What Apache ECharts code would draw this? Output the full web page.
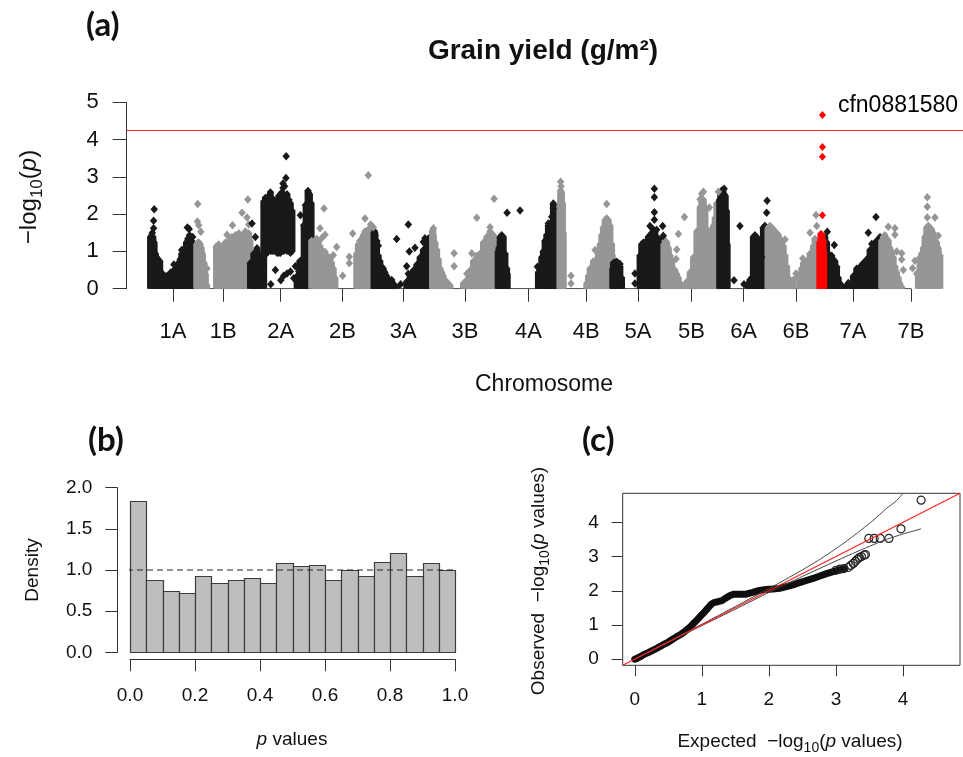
<!DOCTYPE html>
<html>
<head>
<meta charset="utf-8">
<title>Grain yield (g/m²) – GWAS</title>
<script src="https://cdn.jsdelivr.net/npm/echarts@6/dist/echarts.min.js"></script>
<style>
html, body { margin: 0; padding: 0; background: #fff; }
#chart { width: 963px; height: 757px; }
</style>
</head>
<body>
<div id="chart"></div>
<script>
// ---------- (a) Manhattan plot ----------
const chromNames = ['1A', '1B', '2A', '2B', '3A', '3B', '4A', '4B', '5A', '5B', '6A', '6B', '7A', '7B'];
const chromLengthsMb = [594, 690, 781, 801, 751, 830, 800, 674, 655, 714, 618, 721, 737, 751];

// dense marker stacks: [position in chromosome (Mb), top] or [position, bottom, top]
// isolated markers: [position in chromosome (Mb), -log10(p)]
const cols1A = [[8,1.40],[24,1.45],[40,1.40],[56,1.25],[72,0.95],[88,0.85],[108,0.80],[128,0.75],[148,0.45],[168,0.30],[188,0.35],[208,0.35],[228,0.35],[248,0.40],[268,0.45],[288,0.45],[308,0.50],[328,0.55],[348,0.50],[368,0.70],[388,0.80],[408,0.95],[428,0.90],[448,1.10],[468,1.25],[488,1.35],[508,1.45],[528,1.30],[548,1.25],[568,1.20],[588,1.10]];
const dots1A = [[56,2.13],[48,1.82],[48,1.62],[32,1.50],[308,0.65],[408,1.04],[480,1.64],[504,1.60],[548,1.39]];

const cols1B = [[5,1.20],[20,1.25],[35,1.25],[50,1.20],[65,1.10],[80,0.95],[100,0.70],[118,0.40],[135,0.10],[258,1.15],[288,1.20],[330,1.15],[373,1.25],[416,1.30],[458,1.40],[501,1.45],[544,1.50],[586,1.45],[629,1.55],[672,1.50],[688,1.30]];
const dots1B = [[19,2.27],[15,1.80],[32,1.70],[58,1.53],[138,0.54],[586,2.04],[660,2.39],[650,1.91],[672,1.72],[464,1.70],[394,1.45]];

const cols2A = [[3,0.70],[30,0.75],[46,0.95],[88,1.10],[119,0.90],[152,0.80],[174,2.35],[195,0.90,2.45],[216,1.00,2.45],[238,1.00,2.25],[259,1.00,2.60],[280,1.00,2.30],[302,1.00,2.40],[323,1.00,2.30],[344,0.95,2.35],[366,0.95,2.50],[387,0.95,2.55],[408,1.00,2.60],[430,1.00,2.50],[451,1.05,2.45],[472,1.00,2.55],[494,1.00,2.40],[515,0.95,2.30],[536,1.00,2.10],[600,0.35],[634,0.75],[664,0.80],[690,1.70],[715,2.20],[740,2.64],[760,2.55],[781,2.30]];
const dots2A = [[461,3.55],[458,2.97],[420,2.82],[420,2.70],[440,2.75],[264,0.12],[392,0.23],[472,0.41],[515,0.46],[558,0.28],[579,0.60],[622,0.46],[430,0.35],[323,0.50],[643,1.97],[707,2.24],[686,1.70],[67,1.39],[24,1.75]];

const cols2B = [[6,1.30],[49,1.25],[70,1.35],[91,1.30],[113,1.15],[134,1.05],[155,0.95],[177,1.00],[198,0.90],[219,0.75],[241,0.85],[262,0.70],[283,0.55],[305,0.30],[582,0.95],[603,1.20],[625,1.30],[646,1.35],[667,1.45],[689,1.55],[710,1.50],[731,1.60],[753,1.55],[774,1.40],[795,1.20]];
const dots2B = [[164,2.15],[113,1.62],[177,1.45],[134,1.35],[326,1.12],[283,0.90],[403,0.35],[488,0.86],[488,0.68],[531,1.48],[689,1.88],[731,3.04],[761,1.72],[795,1.65]];

const cols3A = [[2,1.50],[10,1.55],[16,1.50],[37,1.30],[58,0.90],[79,0.75],[101,0.60],[122,0.55],[143,0.45],[165,0.35],[186,0.25],[207,0.20],[229,0.25],[250,0.15],[293,0.05],[421,0.20],[464,0.35],[506,0.50],[549,0.65],[592,0.85],[634,1.05],[677,1.25],[698,1.35],[720,1.40],[741,1.30]];
const dots3A = [[58,1.15],[16,1.42],[293,1.33],[442,1.72],[455,1.00],[527,1.10],[421,0.60],[442,0.40],[229,0.12],[344,0.12],[173,0.28],[634,1.25],[655,1.35]];

const cols3B = [[0,1.55],[6,1.60],[12,1.45],[33,1.25],[55,1.05],[76,0.80],[97,0.55],[119,0.45],[140,0.35],[183,0.20],[225,0.10],[396,0.15],[439,0.25],[481,0.50],[524,0.75],[567,0.90],[609,0.95],[652,1.25],[695,1.40],[737,1.55],[780,1.45],[801,1.20],[823,0.90]];
const dots3B = [[277,0.95],[277,0.60],[567,1.90],[789,2.41],[737,1.65],[503,0.95],[652,0.90],[439,0.40],[12,1.62]];

const cols4A = [[10,1.00],[20,1.10],[35,1.40],[56,1.45],[77,1.40],[99,0.95],[120,0.55],[128,0.40],[525,0.45],[547,0.55],[568,0.85],[589,1.00],[611,1.30],[632,1.45],[653,1.70],[675,1.75],[696,1.80],[717,2.30],[739,2.10]];
const dots4A = [[125,2.04],[291,2.10],[513,0.59],[717,2.26],[717,2.15],[589,1.00],[653,1.75],[696,1.93]];

const cols4B = [[0,2.30],[10,2.65],[22,2.60],[35,2.30],[45,1.50],[344,0.15],[365,0.35],[387,0.55],[429,0.75],[472,0.80],[493,0.95],[515,1.20],[536,1.45],[557,1.65],[579,1.85],[600,1.90],[621,1.85],[643,1.70],[664,1.20],[672,0.90]];
const dots4B = [[10,2.87],[16,2.75],[143,0.35],[143,0.14],[600,2.27],[590,1.85],[451,1.04]];

const cols5A = [[3,0.55],[11,0.70],[32,0.72],[53,0.65],[75,0.70],[96,0.60],[117,0.30],[352,0.90],[373,1.20],[395,1.25],[416,1.20],[437,1.30],[459,1.40],[480,1.45],[501,1.50],[523,1.60],[544,1.55],[565,1.40],[587,1.35],[608,1.20],[629,1.30],[650,1.35]];
const dots5A = [[53,0.72],[96,0.66],[288,0.41],[288,0.14],[536,2.68],[536,2.45],[536,2.05],[536,1.85],[480,1.68],[642,1.68],[650,1.42],[565,1.58]];

const cols5B = [[2,1.20],[18,1.30],[40,1.25],[61,1.10],[82,0.90],[104,0.75],[125,0.55],[146,0.50],[168,0.40],[189,0.30],[210,0.15],[232,0.10],[274,0.10],[296,0.20],[338,0.45],[381,0.85],[424,1.55],[466,2.20],[487,2.35],[509,2.40],[530,2.20],[551,1.60],[573,1.55],[594,1.50],[615,1.60],[637,1.70],[658,1.90],[680,2.30],[701,2.00]];
const dots5B = [[266,1.92],[189,1.47],[168,1.05],[159,0.80],[585,2.18],[509,2.60],[487,2.55],[701,2.60],[466,2.40]];

const cols6A = [[2,2.40],[15,2.60],[30,2.65],[45,2.65],[60,2.55],[75,2.50],[90,2.10],[100,1.20],[369,0.15],[390,0.25],[412,0.30],[433,1.40],[454,1.45],[476,1.40],[497,1.00],[518,0.90],[540,1.20],[561,1.65],[582,1.70],[604,1.55]];
const dots6A = [[60,2.68],[186,0.23],[262,1.68],[314,0.12],[610,2.36],[604,2.04],[540,0.85]];

const cols6B = [[2,1.60],[8,1.65],[30,1.70],[51,1.65],[72,1.60],[93,1.55],[115,1.50],[136,1.45],[157,1.35],[179,1.20],[200,1.15],[221,0.90],[243,0.60],[264,0.30],[285,0.10],[328,0.25],[413,0.30],[435,0.55],[456,0.70],[499,0.75],[541,0.95],[584,1.15],[605,1.35],[627,1.20]];
const dots6B = [[221,1.32],[362,0.41],[380,0.32],[448,0.81],[541,1.50],[627,1.68],[618,1.98]];

const cols7A = [[11,1.40],[33,1.25],[54,0.95],[75,0.85],[97,0.90],[118,0.80],[139,0.75],[161,0.60],[182,0.30],[204,0.15],[246,0.05],[289,0.10],[332,0.10],[374,0.35],[417,0.55],[460,0.60],[502,0.70],[545,0.80],[588,1.05],[630,1.20],[673,1.30],[716,1.40],[737,1.35]];
const dots7A = [[41,1.53],[131,1.17],[566,1.50],[664,1.92],[610,1.20],[310,0.15]];

const cols7B = [[0,1.30],[21,1.40],[42,1.45],[64,1.35],[85,1.30],[106,1.10],[128,1.00],[149,0.85],[170,0.60],[192,0.45],[213,0.30],[234,0.15],[256,0.05],[469,0.40],[490,0.85],[511,0.95],[533,1.10],[554,1.40],[576,1.65],[597,1.70],[618,1.65],[640,1.60],[661,1.50],[682,1.30],[704,1.25],[725,1.10],[746,0.90]];
const dots7B = [[85,1.66],[170,1.62],[170,1.45],[192,1.00],[256,0.78],[256,0.95],[277,0.50],[396,0.55],[426,0.75],[584,2.45],[584,2.20],[584,1.91],[682,1.91],[725,1.42],[448,0.40]];

// highlighted region on 6B around the top marker
const highlightChrom = '6B';
const highlightCols = [[665,1.25],[680,1.48],[695,1.45],[710,1.30],[718,1.00]];
const highlightDots = [[700,3.80],[700,3.54],[700,1.97]];
const topMarker = [700, 4.66];
const topMarkerName = 'cfn0881580';
const suggestiveLine = 4.25;

// ---------- (b) p-value histogram ----------
const histBreaks = [0, 0.05, 0.10, 0.15, 0.20, 0.25, 0.30, 0.35, 0.40, 0.45, 0.50, 0.55, 0.60, 0.65, 0.70, 0.75, 0.80, 0.85, 0.90, 0.95, 1.00];
const histDensity = [1.842, 0.879, 0.749, 0.725, 0.931, 0.842, 0.879, 0.903, 0.846, 1.089, 1.053, 1.065, 0.879, 1.000, 0.931, 1.097, 1.211, 0.931, 1.089, 1.000];
const uniformDensity = 1;

// ---------- (c) QQ plot: [expected, observed] ----------
const qqBand = [[0.00,0.00],[0.04,0.03],[0.09,0.08],[0.14,0.14],[0.20,0.19],[0.26,0.25],[0.32,0.31],[0.38,0.37],[0.44,0.44],[0.50,0.50],[0.57,0.59],[0.63,0.66],[0.69,0.73],[0.74,0.80],[0.79,0.88],[0.84,0.97],[0.89,1.07],[0.94,1.17],[0.99,1.28],[1.04,1.38],[1.08,1.47],[1.12,1.56],[1.15,1.62],[1.19,1.66],[1.24,1.68],[1.30,1.71],[1.36,1.79],[1.42,1.86],[1.48,1.90],[1.56,1.90],[1.66,1.90],[1.76,1.95],[1.86,2.01],[1.96,2.04],[2.06,2.05],[2.16,2.07],[2.26,2.12],[2.36,2.17],[2.46,2.24],[2.56,2.30],[2.66,2.36],[2.76,2.43],[2.86,2.50],[2.96,2.56],[3.06,2.62],[3.12,2.65]];
const qqTail = [[3.00,2.60],[3.06,2.63],[3.12,2.65],[3.18,2.68],[3.22,2.74],[3.26,2.80],[3.29,2.86],[3.32,2.92],[3.35,2.97],[3.38,3.00],[3.42,3.04],[3.44,3.06],[3.49,3.53],[3.57,3.53],[3.66,3.53],[3.79,3.53],[3.97,3.81],[4.27,4.65]];
const qqUpper = [[0,0],[0.5,0.51],[1.0,1.02],[1.5,1.54],[2.0,2.06],[2.31,2.40],[2.56,2.68],[2.81,2.98],[3.05,3.30],[3.30,3.66],[3.55,4.05],[3.75,4.40],[3.90,4.63],[4.00,4.85]];
const qqLower = [[0,0],[0.5,0.49],[1.0,0.98],[1.5,1.46],[2.0,1.95],[2.5,2.42],[3.0,2.87],[3.38,3.20],[3.75,3.50],[4.0,3.66],[4.27,3.81]];
const qqTicks = [0, 1, 2, 3, 4];
const qqRange = [-0.18, 4.85];

// ---------- build ----------
const FONT = 'Liberation Sans, Arial, Helvetica, sans-serif';
const LETTER_FONT = 'Lato, Open Sans, sans-serif';
const INK = '#111';
const AXIS = '#333';
const palette = ['#191919', '#969696', '#ff0000'];

const colsByChrom = [cols1A, cols1B, cols2A, cols2B, cols3A, cols3B, cols4A, cols4B, cols5A, cols5B, cols6A, cols6B, cols7A, cols7B];
const dotsByChrom = [dots1A, dots1B, dots2A, dots2B, dots3A, dots3B, dots4A, dots4B, dots5A, dots5B, dots6A, dots6B, dots7A, dots7B];

const offsets = [];
let acc = 0;
chromLengthsMb.forEach(len => { offsets.push(acc); acc += len; });
const mids = chromLengthsMb.map((len, i) => offsets[i] + len / 2);
const nameAt = v => {
  let best = 0;
  mids.forEach((m, i) => { if (Math.abs(m - v) < Math.abs(mids[best] - v)) best = i; });
  return chromNames[best];
};

function toStack(c, off, colour) {
  const lo = c.length === 3 ? c[1] : 0;
  const hi = c.length === 3 ? c[2] : c[1];
  return [off + c[0], lo, hi, colour];
}
const stackData = [];
const dotData = [];
colsByChrom.forEach((arr, ci) => arr.forEach(c => stackData.push(toStack(c, offsets[ci], ci % 2))));
dotsByChrom.forEach((arr, ci) => arr.forEach(d => dotData.push({ value: [offsets[ci] + d[0], d[1]], itemStyle: { color: palette[ci % 2] } })));

const hOff = offsets[chromNames.indexOf(highlightChrom)];
const redStacks = highlightCols.map(c => toStack(c, hOff, 2));
const redDots = highlightDots.map(d => [hOff + d[0], d[1]]);
redDots.push({
  value: [hOff + topMarker[0], topMarker[1]],
  label: { show: true, formatter: topMarkerName, position: 'right', distance: 12, offset: [0, -9], fontSize: 23, fontFamily: FONT, color: '#000' }
});

function renderStack(params, api) {
  const x = api.value(0), lo = api.value(1), hi = api.value(2), ci = api.value(3);
  const b = api.coord([x, lo]);
  const t = api.coord([x, hi]);
  const hw = 3.4, cap = 3.6;
  const bCap = lo > 0 ? cap : 0;
  return {
    type: 'polygon',
    shape: { points: [[b[0] - hw, b[1]], [b[0] - hw, t[1]], [b[0], t[1] - cap], [b[0] + hw, t[1]], [b[0] + hw, b[1]], [b[0], b[1] + bCap]] },
    style: { fill: palette[ci] }
  };
}

const histData = histDensity.map((d, i) => [histBreaks[i], histBreaks[i + 1], d]);
function renderBin(params, api) {
  const p0 = api.coord([api.value(0), 0]);
  const p1 = api.coord([api.value(1), api.value(2)]);
  return {
    type: 'rect',
    shape: { x: Math.round(p0[0]) + 0.5, y: Math.round(p1[1]) + 0.5, width: Math.round(p1[0]) - Math.round(p0[0]), height: Math.round(p0[1]) - Math.round(p1[1]) },
    style: { fill: '#bebebe', stroke: '#3c3c3c', lineWidth: 1.2 }
  };
}

// rich text: a lowered "10" subscript and an italic p
function logRich(F) {
  const base = { fontSize: F, fontFamily: FONT, fill: INK };
  const f = Math.round(F * 0.72);
  return {
    a: base,
    i: Object.assign({}, base, { fontStyle: 'italic' }),
    s: { fontSize: f, fontFamily: FONT, fill: INK, padding: [Math.round(F * 0.7), 0, 0, 0] }
  };
}

const tickStyle = { color: AXIS, width: 1 };
const labelBase = { color: INK, fontFamily: FONT };

const option = {
  animation: false,
  backgroundColor: '#fff',
  grid: [
    { left: 126.7, top: 102.3, width: 836.3, height: 186.4 },
    { left: 130, top: 487.7, width: 325, height: 164.6 },
    { left: 622.7, top: 493.3, width: 337.3, height: 172, show: true, borderColor: AXIS, borderWidth: 1 }
  ],
  xAxis: [
    {
      gridIndex: 0, type: 'value', min: -296, max: 10407,
      axisLine: { show: false, onZero: false },
      splitLine: { show: false },
      axisTick: { show: true, customValues: mids, length: 13, lineStyle: tickStyle },
      axisLabel: Object.assign({ customValues: mids, formatter: v => nameAt(v), margin: 32, fontSize: 22 }, labelBase)
    },
    {
      gridIndex: 1, type: 'value', min: 0, max: 1, interval: 0.2, offset: 7,
      axisLine: { show: true, onZero: false, lineStyle: tickStyle },
      splitLine: { show: false },
      axisTick: { show: true, length: 12, lineStyle: tickStyle },
      axisLabel: Object.assign({ formatter: v => v.toFixed(1), margin: 27, fontSize: 19 }, labelBase)
    },
    {
      gridIndex: 2, type: 'value', min: qqRange[0], max: qqRange[1],
      axisLine: { show: false, onZero: false },
      splitLine: { show: false },
      axisTick: { show: true, customValues: qqTicks, length: 11, lineStyle: tickStyle },
      axisLabel: Object.assign({ customValues: qqTicks, margin: 25, fontSize: 19 }, labelBase)
    }
  ],
  yAxis: [
    {
      gridIndex: 0, type: 'value', min: 0, max: 5, interval: 1,
      axisLine: { show: true, onZero: false, lineStyle: tickStyle },
      splitLine: { show: false },
      axisTick: { show: true, length: 14, lineStyle: tickStyle },
      axisLabel: Object.assign({ margin: 28, fontSize: 22 }, labelBase)
    },
    {
      gridIndex: 1, type: 'value', min: 0, max: 2, interval: 0.5, offset: 12.7,
      axisLine: { show: true, onZero: false, lineStyle: tickStyle },
      splitLine: { show: false },
      axisTick: { show: true, length: 12, lineStyle: tickStyle },
      axisLabel: Object.assign({ formatter: v => v.toFixed(1), margin: 25, fontSize: 19 }, labelBase)
    },
    {
      gridIndex: 2, type: 'value', min: qqRange[0], max: qqRange[1],
      axisLine: { show: false, onZero: false },
      splitLine: { show: false },
      axisTick: { show: true, customValues: qqTicks, length: 11, lineStyle: tickStyle },
      axisLabel: Object.assign({ customValues: qqTicks, margin: 24, fontSize: 19 }, labelBase)
    }
  ],
  series: [
    // x-axis line from the first to the last chromosome tick
    {
      type: 'line', xAxisIndex: 0, yAxisIndex: 0, z: 1, silent: true, symbol: 'none',
      data: [[mids[0], 0], [mids[mids.length - 1], 0]],
      lineStyle: { color: AXIS, width: 1 },
      markLine: {
        silent: true, symbol: 'none', label: { show: false },
        lineStyle: { color: '#ff2020', width: 1.2, type: 'solid' },
        data: [{ yAxis: suggestiveLine }]
      }
    },
    {
      type: 'custom', xAxisIndex: 0, yAxisIndex: 0, z: 2, clip: false, silent: true,
      renderItem: renderStack, encode: { x: 0, y: [1, 2] }, data: stackData
    },
    {
      type: 'scatter', xAxisIndex: 0, yAxisIndex: 0, z: 3, clip: false, silent: true,
      symbol: 'diamond', symbolSize: [7.5, 8.5], itemStyle: { opacity: 1 }, data: dotData
    },
    {
      type: 'custom', xAxisIndex: 0, yAxisIndex: 0, z: 4, clip: false, silent: true,
      renderItem: renderStack, encode: { x: 0, y: [1, 2] }, data: redStacks
    },
    {
      type: 'scatter', xAxisIndex: 0, yAxisIndex: 0, z: 5, clip: false, silent: true,
      symbol: 'diamond', symbolSize: [7, 8], itemStyle: { color: palette[2], opacity: 1 }, data: redDots
    },
    // histogram
    {
      type: 'custom', xAxisIndex: 1, yAxisIndex: 1, z: 2, clip: false, silent: true,
      renderItem: renderBin, encode: { x: [0, 1], y: 2 }, data: histData
    },
    {
      type: 'line', xAxisIndex: 1, yAxisIndex: 1, z: 3, clip: false, silent: true, symbol: 'none',
      data: [[-0.04, uniformDensity], [1.03, uniformDensity]],
      lineStyle: { color: '#222', width: 1.2, type: [6, 4] }
    },
    // QQ plot
    {
      type: 'line', xAxisIndex: 2, yAxisIndex: 2, z: 2, silent: true, symbol: 'none',
      data: qqBand, lineStyle: { color: '#0d0d0d', width: 7, cap: 'round', join: 'round' }
    },
    {
      type: 'scatter', xAxisIndex: 2, yAxisIndex: 2, z: 3, silent: true,
      symbol: 'circle', symbolSize: 8,
      itemStyle: { color: 'rgba(0,0,0,0)', borderColor: '#222', borderWidth: 1.2, opacity: 1 },
      data: qqTail
    },
    {
      type: 'line', xAxisIndex: 2, yAxisIndex: 2, z: 4, silent: true, symbol: 'none', smooth: 0.2,
      data: qqUpper, lineStyle: { color: '#444', width: 1 }
    },
    {
      type: 'line', xAxisIndex: 2, yAxisIndex: 2, z: 4, silent: true, symbol: 'none', smooth: 0.2,
      data: qqLower, lineStyle: { color: '#444', width: 1 }
    },
    {
      type: 'line', xAxisIndex: 2, yAxisIndex: 2, z: 5, silent: true, symbol: 'none',
      data: [[qqRange[0], qqRange[0]], [qqRange[1], qqRange[1]]],
      lineStyle: { color: '#ff2020', width: 1.1 }
    }
  ],
  graphic: [
    { type: 'text', x: 86, y: 25.5, style: { text: '(a)', fontFamily: LETTER_FONT, fontWeight: 'bold', fontSize: 33, fill: INK, align: 'left', verticalAlign: 'middle' } },
    { type: 'text', x: 88, y: 440, style: { text: '(b)', fontFamily: LETTER_FONT, fontWeight: 'bold', fontSize: 33, fill: INK, align: 'left', verticalAlign: 'middle' } },
    { type: 'text', x: 582, y: 440, style: { text: '(c)', fontFamily: LETTER_FONT, fontWeight: 'bold', fontSize: 33, fill: INK, align: 'left', verticalAlign: 'middle' } },
    { type: 'text', x: 543, y: 51, style: { text: 'Grain yield (g/m²)', fontFamily: FONT, fontWeight: 'bold', fontSize: 28, fill: INK, align: 'center', verticalAlign: 'middle' } },
    { type: 'text', x: 29, y: 197, rotation: Math.PI / 2, style: { text: '{a|−log}{s|10}{a|(}{i|p}{a|)}', rich: logRich(24), align: 'center', verticalAlign: 'middle' } },
    { type: 'text', x: 544, y: 385, style: { text: 'Chromosome', fontFamily: FONT, fontSize: 23, fill: INK, align: 'center', verticalAlign: 'middle' } },
    { type: 'text', x: 33, y: 570, rotation: Math.PI / 2, style: { text: 'Density', fontFamily: FONT, fontSize: 19, fill: INK, align: 'center', verticalAlign: 'middle' } },
    { type: 'text', x: 292, y: 740, style: {
      text: '{i|p}{a| values}', align: 'center', verticalAlign: 'middle',
      rich: {
        i: { fontSize: 19, fontFamily: FONT, fontStyle: 'italic', fill: INK },
        a: { fontSize: 19, fontFamily: FONT, fill: INK }
      }
    } },
    { type: 'text', x: 790, y: 742, style: { text: '{a|Expected  −log}{s|10}{a|(}{i|p}{a| values)}', rich: logRich(19), align: 'center', verticalAlign: 'middle' } },
    { type: 'text', x: 539, y: 581, rotation: Math.PI / 2, style: { text: '{a|Observed  −log}{s|10}{a|(}{i|p}{a| values)}', rich: logRich(19), align: 'center', verticalAlign: 'middle' } }
  ]
};

const chart = echarts.init(document.getElementById('chart'), null, { renderer: 'canvas' });
chart.setOption(option);
</script>
</body>
</html>
